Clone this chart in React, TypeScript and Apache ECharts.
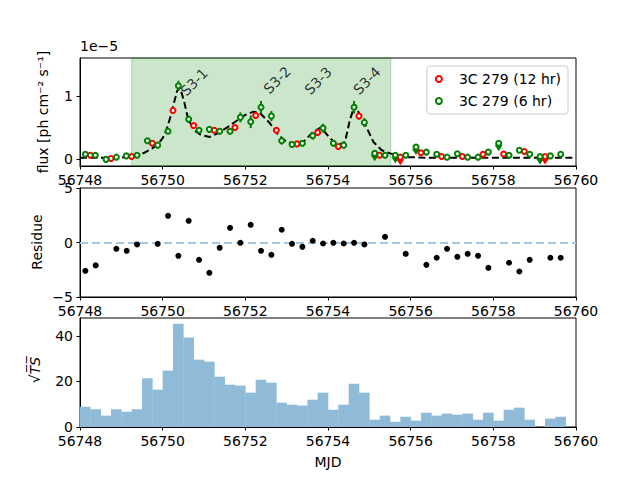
import React, { useEffect, useRef } from "react";
import * as echarts from "echarts";

const FONT = "DejaVu Sans";

// ---- Top panel: 3C 279 6 hr bins (flux in 1e-5 ph cm^-2 s^-1) ----
const g6T = [56748.13, 56748.37, 56748.63, 56748.88, 56749.12, 56749.38, 56749.63, 56749.88, 56750.13, 56750.38, 56750.63, 56750.88, 56751.13, 56751.38, 56751.63, 56751.88, 56752.13, 56752.38, 56752.63, 56752.88, 56753.13, 56753.38, 56753.63, 56753.88, 56754.13, 56754.38, 56754.63, 56754.88, 56755.13, 56755.38, 56755.63, 56755.88, 56756.13, 56756.38, 56756.63, 56756.88, 56757.13, 56757.38, 56757.63, 56757.88, 56758.13, 56758.38, 56758.63, 56758.88, 56759.13, 56759.38, 56759.63];
const g6F = [0.075, 0.06, -0.005, 0.03, 0.05, 0.06, 0.29, 0.22, 0.44, 1.16, 0.63, 0.455, 0.47, 0.44, 0.44, 0.66, 0.59, 0.82, 0.68, 0.29, 0.23, 0.25, 0.37, 0.49, 0.25, 0.22, 0.82, 0.58, 0.09, 0.06, 0.06, 0.06, 0.19, 0.11, 0.075, 0.03, 0.085, 0.03, 0.03, 0.11, 0.25, 0.06, 0.14, 0.075, 0.04, 0.05, 0.075];
const g6E = [0.03, 0.03, 0.03, 0.03, 0.03, 0.03, 0.04, 0.04, 0.05, 0.08, 0.06, 0.05, 0.05, 0.05, 0.05, 0.08, 0.1, 0.1, 0.08, 0.06, 0.05, 0.05, 0.06, 0.07, 0.05, 0.05, 0.1, 0.07, 0.02, 0.03, 0.02, 0.03, 0.02, 0.04, 0.03, 0.03, 0.04, 0.03, 0.03, 0.04, 0.02, 0.03, 0.04, 0.03, 0.02, 0.03, 0.04];
const g6UL = [0, 0, 0, 0, 0, 0, 0, 0, 0, 0, 0, 0, 0, 0, 0, 0, 0, 0, 0, 0, 0, 0, 0, 0, 0, 0, 0, 0, 1, 0, 1, 0, 1, 0, 0, 0, 0, 0, 0, 0, 1, 0, 0, 0, 1, 0, 0];

// ---- Top panel: 3C 279 12 hr bins ----
const r12T = [56748.25, 56748.75, 56749.25, 56749.75, 56750.25, 56750.75, 56751.25, 56751.75, 56752.25, 56752.75, 56753.25, 56753.75, 56754.25, 56754.75, 56755.25, 56755.75, 56756.25, 56756.75, 56757.25, 56757.75, 56758.25, 56758.75, 56759.25];
const r12F = [0.06, 0.01, 0.04, 0.25, 0.77, 0.53, 0.455, 0.5, 0.69, 0.455, 0.24, 0.42, 0.2, 0.68, 0.06, 0.03, 0.1, 0.04, 0.04, 0.075, 0.08, 0.12, 0.04];
const r12E = [0.02, 0.02, 0.02, 0.03, 0.05, 0.04, 0.03, 0.04, 0.05, 0.04, 0.03, 0.04, 0.03, 0.05, 0.03, 0.02, 0.03, 0.02, 0.02, 0.03, 0.03, 0.03, 0.02];
const r12UL = [0, 0, 0, 0, 0, 0, 0, 0, 0, 0, 0, 0, 0, 0, 0, 1, 0, 0, 0, 0, 0, 0, 1];

// ---- Model curve ----
const modelT = [56748.0, 56748.5, 56749.0, 56749.3, 56749.56, 56749.75, 56749.89, 56750.0, 56750.09, 56750.18, 56750.25, 56750.35, 56750.42, 56750.52, 56750.61, 56750.75, 56750.93, 56751.14, 56751.34, 56751.58, 56751.82, 56752.0, 56752.2, 56752.35, 56752.59, 56752.8, 56753.0, 56753.2, 56753.4, 56753.64, 56753.83, 56754.05, 56754.25, 56754.41, 56754.53, 56754.65, 56754.77, 56754.94, 56755.1, 56755.3, 56755.5, 56755.9, 56756.5, 56760.0];
const modelF = [0.02, 0.02, 0.025, 0.04, 0.1, 0.17, 0.24, 0.33, 0.46, 0.65, 0.83, 1.08, 1.13, 0.91, 0.65, 0.46, 0.38, 0.35, 0.41, 0.51, 0.62, 0.7, 0.75, 0.73, 0.57, 0.38, 0.27, 0.24, 0.27, 0.43, 0.5, 0.33, 0.22, 0.27, 0.62, 0.86, 0.7, 0.49, 0.27, 0.14, 0.09, 0.03, 0.02, 0.02];

// ---- Flare period shading and labels ----
const flareSpan = [56749.25, 56755.52];
const flareLabels = ["S3-1", "S3-2", "S3-3", "S3-4"];
const flareLabelT = [56750.76, 56752.77, 56753.76, 56754.94];
const flareLabelF = [1.22, 1.25, 1.24, 1.24];

// ---- Residuals ----
const resT = [56748.13, 56748.38, 56748.88, 56749.13, 56749.38, 56749.88, 56750.13, 56750.38, 56750.63, 56750.88, 56751.13, 56751.38, 56751.63, 56751.88, 56752.13, 56752.38, 56752.63, 56752.88, 56753.13, 56753.38, 56753.63, 56753.88, 56754.13, 56754.38, 56754.63, 56754.88, 56755.38, 56755.88, 56756.38, 56756.63, 56756.88, 56757.13, 56757.38, 56757.63, 56757.88, 56758.38, 56758.63, 56758.88, 56759.38, 56759.63];
const resV = [-2.6, -2.1, -0.58, -0.76, -0.18, -0.12, 2.45, -1.22, 1.99, -1.59, -2.78, -0.49, 1.35, -0.03, 1.62, -0.76, -1.13, 1.17, -0.12, -0.4, 0.16, -0.09, -0.03, -0.09, -0.03, -0.18, 0.52, -1.04, -2.05, -1.4, -0.58, -1.31, -1.04, -1.22, -2.32, -1.86, -2.66, -1.59, -1.4, -1.4];

// ---- sqrt(TS) histogram ----
const tsBinStart = [56748.0, 56748.25, 56748.5, 56748.75, 56749.0, 56749.25, 56749.5, 56749.75, 56750.0, 56750.25, 56750.5, 56750.75, 56751.0, 56751.25, 56751.5, 56751.75, 56752.0, 56752.25, 56752.5, 56752.75, 56753.0, 56753.25, 56753.5, 56753.75, 56754.0, 56754.25, 56754.5, 56754.75, 56755.0, 56755.25, 56755.5, 56755.75, 56756.0, 56756.25, 56756.5, 56756.75, 56757.0, 56757.25, 56757.5, 56757.75, 56758.0, 56758.25, 56758.5, 56758.75, 56759.0, 56759.25, 56759.5, 56759.75];
const tsBinWidth = 0.25;
const tsVal = [8.9, 7.8, 5.0, 7.8, 6.7, 7.8, 21.4, 16.4, 24.8, 45.4, 39.3, 29.6, 28.7, 22.1, 18.6, 18.2, 15.1, 20.8, 19.5, 10.7, 9.8, 9.4, 12.0, 15.1, 7.6, 9.8, 19.0, 15.1, 3.2, 5.0, 2.3, 4.5, 2.8, 6.3, 5.0, 5.9, 5.4, 5.9, 3.2, 6.3, 2.8, 7.6, 8.5, 3.2, 0, 3.7, 4.5, 0];

const xTicks = [56748, 56750, 56752, 56754, 56756, 56758, 56760];

const RED = "#ff0000";
const GREEN = "#008000";

function xAxisFor(gridIndex: number) {
  return {
    type: "value",
    gridIndex,
    min: 56748,
    max: 56760,
    interval: 2,
    axisLine: { show: true, onZero: false, lineStyle: { color: "#000", width: 1 } },
    axisTick: { show: true, length: 3.5, lineStyle: { color: "#000" }, customValues: xTicks },
    axisLabel: { color: "#000", fontFamily: FONT, fontSize: 14, margin: 7, customValues: xTicks, formatter: (v: number) => String(v) },
    splitLine: { show: false },
  };
}

function yAxisFor(gridIndex: number, min: number, max: number, ticks: number[]) {
  return {
    type: "value",
    gridIndex,
    min,
    max,
    axisLine: { show: true, onZero: false, lineStyle: { color: "#000", width: 1 } },
    axisTick: { show: true, length: 3.5, lineStyle: { color: "#000" }, customValues: ticks },
    axisLabel: { color: "#000", fontFamily: FONT, fontSize: 14, margin: 7, customValues: ticks, formatter: (v: number) => (v < 0 ? "\u2212" + Math.abs(v) : String(v)) },
    splitLine: { show: false },
  };
}

function errRender(color: string, width: number) {
  return (params: any, api: any) => {
    const x = api.value(0);
    const lo = api.value(1);
    const hi = api.value(2);
    const p1 = api.coord([x, lo]);
    const p2 = api.coord([x, hi]);
    return {
      type: "line",
      shape: { x1: p1[0], y1: p1[1], x2: p2[0], y2: p2[1] },
      style: { stroke: color, lineWidth: width },
    };
  };
}

export default function App() {
  const ref = useRef<HTMLDivElement>(null);

  useEffect(() => {
    if (!ref.current) return;
    const chart = echarts.init(ref.current, undefined, { renderer: "svg" });

    const gErr = g6T.map((t, i) => (g6UL[i] ? null : [t, g6F[i] - g6E[i], g6F[i] + g6E[i]])).filter(Boolean);
    const rErr = r12T.map((t, i) => (r12UL[i] ? null : [t, r12F[i] - r12E[i], r12F[i] + r12E[i]])).filter(Boolean);
    const gULpts = g6T.map((t, i) => (g6UL[i] ? [t, g6F[i]] : null)).filter(Boolean);
    const rULpts = r12T.map((t, i) => (r12UL[i] ? [t, r12F[i]] : null)).filter(Boolean);

    const option: any = {
      animation: false,
      backgroundColor: "#fff",
      textStyle: { fontFamily: FONT },
      grid: [
        { left: 80, top: 58, width: 496, height: 108, show: true, borderColor: "#000", borderWidth: 1, backgroundColor: "transparent" },
        { left: 80, top: 188, width: 496, height: 109, show: true, borderColor: "#000", borderWidth: 1, backgroundColor: "transparent" },
        { left: 80, top: 318, width: 496, height: 109, show: true, borderColor: "#000", borderWidth: 1, backgroundColor: "transparent" },
      ],
      xAxis: [xAxisFor(0), xAxisFor(1), xAxisFor(2)],
      yAxis: [
        yAxisFor(0, -0.11, 1.6, [0, 1]),
        yAxisFor(1, -5, 5, [-5, 0, 5]),
        yAxisFor(2, 0, 47.9, [0, 20, 40]),
      ],
      legend: {
        right: 72,
        top: 66,
        orient: "vertical",
        backgroundColor: "rgba(255,255,255,0.8)",
        borderColor: "#cccccc",
        borderWidth: 1,
        borderRadius: 3,
        padding: [6, 7, 6, 8],
        itemGap: 8,
        itemWidth: 30,
        itemHeight: 6,
        textStyle: { fontFamily: FONT, fontSize: 14, color: "#000" },
        data: [
          { name: "3C 279 (12 hr)", icon: "emptyCircle" },
          { name: "3C 279 (6 hr)", icon: "emptyCircle" },
        ],
      },
      series: [
        {
          type: "line",
          name: "span",
          xAxisIndex: 0,
          yAxisIndex: 0,
          data: [],
          markArea: {
            silent: true,
            itemStyle: { color: "rgba(0,128,0,0.2)", borderColor: "rgba(0,128,0,0.25)", borderWidth: 1 },
            data: [[{ xAxis: flareSpan[0] }, { xAxis: flareSpan[1] }]],
          },
        },
        {
          type: "line",
          name: "model",
          xAxisIndex: 0,
          yAxisIndex: 0,
          data: modelT.map((t, i) => [t, modelF[i]]),
          showSymbol: false,
          symbol: "none",
          lineStyle: { color: "#000", width: 2, type: [7, 3.5] },
          z: 2,
        },
        {
          type: "custom",
          name: "gerr",
          xAxisIndex: 0,
          yAxisIndex: 0,
          renderItem: errRender(GREEN, 2),
          encode: { x: 0, y: [1, 2] },
          data: gErr,
          z: 3,
        },
        {
          type: "custom",
          name: "rerr",
          xAxisIndex: 0,
          yAxisIndex: 0,
          renderItem: errRender(RED, 2),
          encode: { x: 0, y: [1, 2] },
          data: rErr,
          z: 3,
        },
        {
          type: "scatter",
          name: "gul",
          xAxisIndex: 0,
          yAxisIndex: 0,
          symbol: "triangle",
          symbolRotate: 180,
          symbolSize: [8, 6],
          symbolOffset: [0, 5],
          itemStyle: { color: GREEN, opacity: 1 },
          data: gULpts,
          z: 4,
        },
        {
          type: "scatter",
          name: "rul",
          xAxisIndex: 0,
          yAxisIndex: 0,
          symbol: "triangle",
          symbolRotate: 180,
          symbolSize: [8, 6],
          symbolOffset: [0, 5],
          itemStyle: { color: RED, opacity: 1 },
          data: rULpts,
          z: 4,
        },
        {
          type: "scatter",
          name: "3C 279 (12 hr)",
          xAxisIndex: 0,
          yAxisIndex: 0,
          symbol: "emptyCircle",
          symbolSize: 5,
          itemStyle: { color: RED, borderWidth: 1.5, opacity: 1 },
          data: r12T.map((t, i) => [t, r12F[i]]),
          z: 5,
        },
        {
          type: "scatter",
          name: "3C 279 (6 hr)",
          xAxisIndex: 0,
          yAxisIndex: 0,
          symbol: "emptyCircle",
          symbolSize: 5,
          itemStyle: { color: GREEN, borderWidth: 1.5, opacity: 1 },
          data: g6T.map((t, i) => [t, g6F[i]]),
          z: 5,
        },
        {
          type: "scatter",
          name: "labels",
          xAxisIndex: 0,
          yAxisIndex: 0,
          symbolSize: 0,
          data: flareLabels.map((s, i) => ({ name: s, value: [flareLabelT[i], flareLabelF[i]] })),
          label: {
            show: true,
            position: "inside",
            formatter: "{b}",
            rotate: 45,
            fontFamily: FONT,
            fontSize: 14,
            color: "#000",
            align: "center",
            verticalAlign: "middle",
          },
          z: 6,
        },
        {
          type: "scatter",
          name: "residue",
          xAxisIndex: 1,
          yAxisIndex: 1,
          symbol: "circle",
          symbolSize: 6,
          itemStyle: { color: "#000", opacity: 1 },
          data: resT.map((t, i) => [t, resV[i]]),
          markLine: {
            silent: true,
            symbol: "none",
            label: { show: false },
            lineStyle: { color: "#a3c6e3", width: 2, type: [8, 4] },
            data: [{ yAxis: 0 }],
          },
          z: 5,
        },
        {
          type: "custom",
          name: "ts",
          xAxisIndex: 2,
          yAxisIndex: 2,
          encode: { x: [0, 1], y: 2 },
          data: tsBinStart.map((s, i) => [s, s + tsBinWidth, tsVal[i]]),
          renderItem: (params: any, api: any) => {
            const a = api.coord([api.value(0), api.value(2)]);
            const b = api.coord([api.value(1), 0]);
            return {
              type: "rect",
              shape: { x: a[0], y: a[1], width: b[0] - a[0] + 0.3, height: b[1] - a[1] },
              style: { fill: "#8fbbd9" },
            };
          },
          z: 2,
        },
      ],
      graphic: [
        {
          type: "text",
          left: 80,
          top: 39,
          style: { text: "1e\u22125", fontFamily: FONT, fontSize: 14, fill: "#000" },
        },
        {
          type: "text",
          x: 43,
          y: 112,
          rotation: Math.PI / 2,
          style: { text: "flux [ph cm\u207B\u00B2 s\u207B\u00B9]", fontFamily: FONT, fontSize: 14, fill: "#000", align: "center", verticalAlign: "middle" },
        },
        {
          type: "text",
          x: 37,
          y: 242,
          rotation: Math.PI / 2,
          style: { text: "Residue", fontFamily: FONT, fontSize: 14, fill: "#000", align: "center", verticalAlign: "middle" },
        },
        {
          type: "text",
          x: 35,
          y: 370,
          rotation: Math.PI / 2,
          style: {
            text: "{a|\u221A}{b|T\u0305S\u0305}",
            rich: {
              a: { fontFamily: FONT, fontSize: 14, fill: "#000" },
              b: { fontFamily: FONT, fontSize: 14, fontStyle: "italic", fill: "#000" },
            },
            align: "center",
            verticalAlign: "middle",
          },
        },
        {
          type: "text",
          x: 328,
          y: 462,
          style: { text: "MJD", fontFamily: FONT, fontSize: 14, fill: "#000", align: "center", verticalAlign: "middle" },
        },
      ],
    };

    chart.setOption(option);
    return () => chart.dispose();
  }, []);

  return <div ref={ref} style={{ position: "absolute", left: 0, top: 0, width: 640, height: 480 }} />;
}
